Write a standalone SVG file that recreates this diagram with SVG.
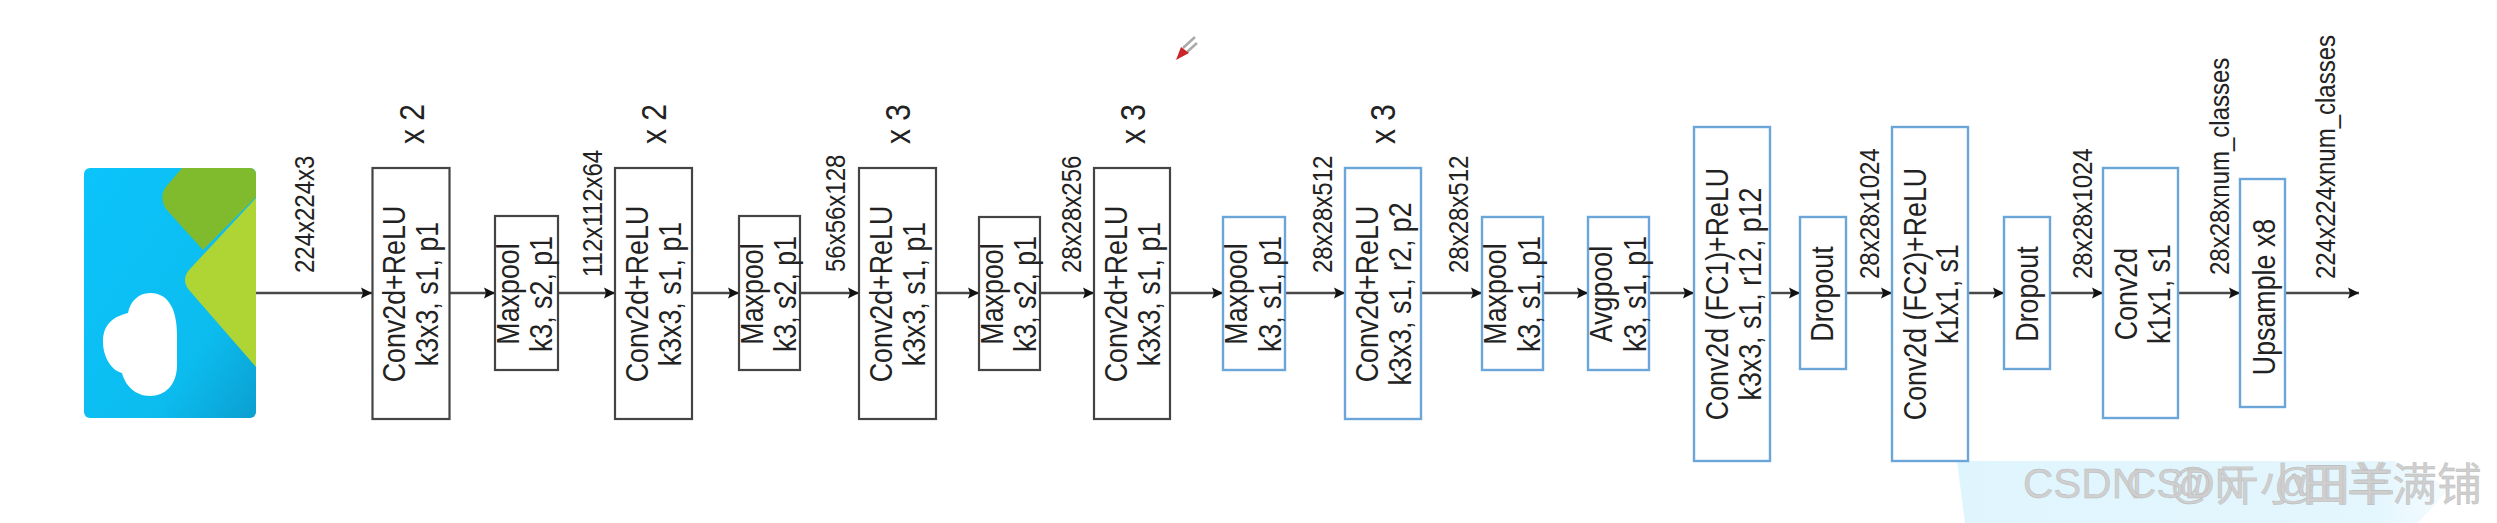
<svg xmlns="http://www.w3.org/2000/svg" width="2497" height="523" viewBox="0 0 2497 523">
<style>
text{font-family:"Liberation Sans",Arial,sans-serif;fill:#222}
.n{font-size:26.800px;text-anchor:middle}
.d{font-size:24px}
.m{font-size:30px}
rect.k{fill:#fff;stroke:#444;stroke-width:2.200}
rect.b{fill:#fff;stroke:#6ca6d9;stroke-width:2.400}
#connectors line{stroke:#484848;stroke-width:2.400;marker-end:url(#ah)}
text.w{font-family:"Liberation Sans","Noto Sans CJK SC",sans-serif;font-size:42px;fill:#cfcfcf;stroke:#b8b8b8;stroke-width:.4}
.c{font-size:45px}
</style>
<defs>
<marker id="ah" markerUnits="userSpaceOnUse" markerWidth="12" markerHeight="12" refX="11" refY="6" orient="auto"><path d="M0 .5L11 6L0 11.500L2 6Z" fill="#111"/></marker>
<linearGradient id="sky" x1="0" y1="0" x2="1" y2="1"><stop offset="0" stop-color="#0bc4fb"/><stop offset=".7" stop-color="#0cbcef"/><stop offset="1" stop-color="#0b9fd0"/></linearGradient>
<linearGradient id="wm" x1="0" x2="1" y1="0" y2="0"><stop offset="0" stop-color="#dff5fe"/><stop offset=".85" stop-color="#e4f6fe"/><stop offset="1" stop-color="#f6fcff"/></linearGradient>
</defs>
<rect width="2497" height="523" fill="#fff"/>
<path d="M1957 461H2395L2450 488L2418 523H1965Z" fill="url(#wm)"/>
<g id="pen"><path d="M1183 48L1195 37M1187 52L1197 43" stroke="#aaa" stroke-width="2.500" fill="none"/><path d="M1176 60L1181 47L1189 53Z" fill="#c9262a"/></g>
<g id="input">
<rect x="84" y="168" width="172" height="250" rx="6" fill="url(#sky)"/>
<path d="M182 168H250a6 6 0 0 1 6 6V197L203 250L166 209Q159 198 165 188Z" fill="#80bb2e"/>
<path d="M256 198V367L189 290Q181 280 189 270Z" fill="#aed534"/>
<path d="M150 293C170 293 177 312 177 335V365C177 385 165 396 150 396C135 396 125 385 122 373C110 370 103 355 103 342C103 325 112 317 128 313C130 302 138 293 150 293Z" fill="#fff"/>
</g>
<g id="connectors">
<line x1="256" y1="293" x2="372" y2="293"/><line x1="450" y1="293" x2="495" y2="293"/><line x1="558" y1="293" x2="615" y2="293"/><line x1="692" y1="293" x2="739" y2="293"/><line x1="800" y1="293" x2="859" y2="293"/><line x1="936" y1="293" x2="979" y2="293"/><line x1="1040" y1="293" x2="1094" y2="293"/><line x1="1170" y1="293" x2="1223" y2="293"/><line x1="1285" y1="293" x2="1345" y2="293"/><line x1="1421" y1="293" x2="1482" y2="293"/><line x1="1543" y1="293" x2="1588" y2="293"/><line x1="1649" y1="293" x2="1694" y2="293"/><line x1="1770" y1="293" x2="1800" y2="293"/><line x1="1846" y1="293" x2="1892" y2="293"/><line x1="1968" y1="293" x2="2004" y2="293"/><line x1="2050" y1="293" x2="2103" y2="293"/><line x1="2178" y1="293" x2="2240" y2="293"/><line x1="2285" y1="293" x2="2359" y2="293"/>
</g>
<g id="n1"><rect class="k" x="372.500" y="168" width="77" height="251"/><text class="n" transform="translate(405,294) rotate(-90) scale(1,1.2)">Conv2d+ReLU</text><text class="n" transform="translate(438,294) rotate(-90) scale(1,1.2)">k3x3, s1, p1</text></g>
<g id="n2"><rect class="k" x="495" y="216" width="63" height="154"/><text class="n" transform="translate(519,294) rotate(-90) scale(1,1.2)">Maxpool</text><text class="n" transform="translate(552,294) rotate(-90) scale(1,1.2)">k3, s2, p1</text></g>
<g id="n3"><rect class="k" x="615" y="168" width="77" height="251"/><text class="n" transform="translate(648,294) rotate(-90) scale(1,1.2)">Conv2d+ReLU</text><text class="n" transform="translate(681,294) rotate(-90) scale(1,1.2)">k3x3, s1, p1</text></g>
<g id="n4"><rect class="k" x="739" y="216" width="61" height="154"/><text class="n" transform="translate(763,294) rotate(-90) scale(1,1.2)">Maxpool</text><text class="n" transform="translate(796,294) rotate(-90) scale(1,1.2)">k3, s2, p1</text></g>
<g id="n5"><rect class="k" x="859" y="168" width="77" height="251"/><text class="n" transform="translate(892,294) rotate(-90) scale(1,1.2)">Conv2d+ReLU</text><text class="n" transform="translate(925,294) rotate(-90) scale(1,1.2)">k3x3, s1, p1</text></g>
<g id="n6"><rect class="k" x="979" y="217" width="61" height="153"/><text class="n" transform="translate(1003,294) rotate(-90) scale(1,1.2)">Maxpool</text><text class="n" transform="translate(1036,294) rotate(-90) scale(1,1.2)">k3, s2, p1</text></g>
<g id="n7"><rect class="k" x="1094" y="168" width="76" height="251"/><text class="n" transform="translate(1127,294) rotate(-90) scale(1,1.2)">Conv2d+ReLU</text><text class="n" transform="translate(1160,294) rotate(-90) scale(1,1.2)">k3x3, s1, p1</text></g>
<g id="n8"><rect class="b" x="1223" y="217" width="62" height="153"/><text class="n" transform="translate(1247,294) rotate(-90) scale(1,1.2)">Maxpool</text><text class="n" transform="translate(1281,294) rotate(-90) scale(1,1.2)">k3, s1, p1</text></g>
<g id="n9"><rect class="b" x="1345" y="168" width="76" height="251"/><text class="n" transform="translate(1378,294) rotate(-90) scale(1,1.2)">Conv2d+ReLU</text><text class="n" transform="translate(1411,294) rotate(-90) scale(1,1.2)">k3x3, s1, r2, p2</text></g>
<g id="n10"><rect class="b" x="1482" y="217" width="61" height="153"/><text class="n" transform="translate(1506,294) rotate(-90) scale(1,1.2)">Maxpool</text><text class="n" transform="translate(1540,294) rotate(-90) scale(1,1.2)">k3, s1, p1</text></g>
<g id="n11"><rect class="b" x="1588" y="217" width="61" height="153"/><text class="n" transform="translate(1612,294) rotate(-90) scale(1,1.2)">Avgpool</text><text class="n" transform="translate(1646,294) rotate(-90) scale(1,1.2)">k3, s1, p1</text></g>
<g id="n12"><rect class="b" x="1694" y="127" width="76" height="334"/><text class="n" transform="translate(1728,294) rotate(-90) scale(1,1.2)">Conv2d (FC1)+ReLU</text><text class="n" transform="translate(1761,294) rotate(-90) scale(1,1.2)">k3x3, s1, r12, p12</text></g>
<g id="n13"><rect class="b" x="1800" y="217" width="46" height="152"/><text class="n" transform="translate(1833,294) rotate(-90) scale(1,1.2)">Dropout</text></g>
<g id="n14"><rect class="b" x="1892" y="127" width="76" height="334"/><text class="n" transform="translate(1926,294) rotate(-90) scale(1,1.2)">Conv2d (FC2)+ReLU</text><text class="n" transform="translate(1958,294) rotate(-90) scale(1,1.2)">k1x1, s1</text></g>
<g id="n15"><rect class="b" x="2004" y="217" width="46" height="152"/><text class="n" transform="translate(2038,294) rotate(-90) scale(1,1.2)">Dropout</text></g>
<g id="n16"><rect class="b" x="2103" y="168" width="75" height="250"/><text class="n" transform="translate(2137,294) rotate(-90) scale(1,1.2)">Conv2d</text><text class="n" transform="translate(2170,294) rotate(-90) scale(1,1.2)">k1x1, s1</text></g>
<g id="n17"><rect class="b" x="2240" y="179" width="45" height="228"/><text class="n" transform="translate(2275,297) rotate(-90) scale(1,1.2)">Upsample x8</text></g>
<g id="labels">
<text class="d" transform="translate(314,273) rotate(-90) scale(1,1.14)">224x224x3</text>
<text class="d" transform="translate(602,277) rotate(-90) scale(1,1.14)">112x112x64</text>
<text class="d" transform="translate(845,272) rotate(-90) scale(1,1.14)">56x56x128</text>
<text class="d" transform="translate(1081,273) rotate(-90) scale(1,1.14)">28x28x256</text>
<text class="d" transform="translate(1332,273) rotate(-90) scale(1,1.14)">28x28x512</text>
<text class="d" transform="translate(1468,273) rotate(-90) scale(1,1.14)">28x28x512</text>
<text class="d" transform="translate(1879,279) rotate(-90) scale(1,1.14)">28x28x1024</text>
<text class="d" transform="translate(2092,279) rotate(-90) scale(1,1.14)">28x28x1024</text>
<text class="d" transform="translate(2229,275) rotate(-90) scale(1,1.14)">28x28xnum_classes</text>
<text class="d" transform="translate(2335,279) rotate(-90) scale(1,1.14)">224x224xnum_classes</text>
<text class="m" transform="translate(424,144) rotate(-90) scale(1,1.14)">x 2</text>
<text class="m" transform="translate(666,144) rotate(-90) scale(1,1.14)">x 2</text>
<text class="m" transform="translate(910,144) rotate(-90) scale(1,1.14)">x 3</text>
<text class="m" transform="translate(1145,144) rotate(-90) scale(1,1.14)">x 3</text>
<text class="m" transform="translate(1395,144) rotate(-90) scale(1,1.14)">x 3</text>
</g>
<g id="watermark">
<text class="w" y="498"><tspan x="2023">CSDN</tspan><tspan x="2170">@</tspan><tspan class="c" x="2215" y="501">亓小田羊</tspan></text>
<text class="w" y="498"><tspan x="2126">CSDN</tspan><tspan x="2274">@</tspan><tspan class="c" x="2302" y="501">田羊满铺</tspan></text>
</g>
</svg>
